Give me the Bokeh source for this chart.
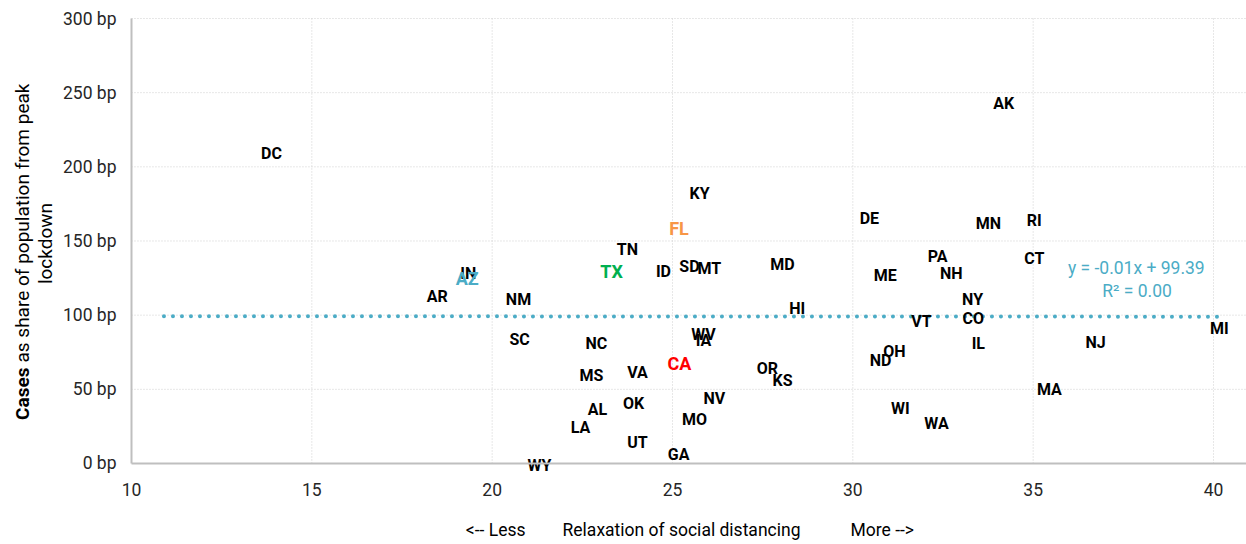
import math
from bokeh.plotting import figure
from bokeh.models import (ColumnDataSource, Range1d, FixedTicker, PrintfTickFormatter, Label)
from bokeh.core.properties import value
from bokeh.embed import file_html
from bokeh.resources import INLINE

# ---- data ----
states = ["DC", "AK", "KY", "FL", "DE", "MN", "RI", "PA", "CT", "ME", "NH", "NY", "VT", "CO",
          "IL", "NJ", "MI", "ND", "OH", "MA", "WI", "WA", "TN", "TX", "ID", "SD", "MT", "MD",
          "IN", "AZ", "AR", "NM", "HI", "SC", "NC", "WV", "IA", "CA", "MS", "VA", "OR", "KS",
          "NV", "AL", "OK", "MO", "LA", "UT", "GA", "WY"]
relaxation = [13.88, 34.18, 25.75, 25.18, 30.46, 33.76, 35.03, 32.35, 35.03, 30.90, 32.73, 33.32,
              31.90, 33.34, 33.48, 36.73, 40.16, 30.77, 31.15, 35.45, 31.32, 32.32, 23.75, 23.31,
              24.75, 25.47, 26.02, 28.05, 19.34, 19.31, 18.48, 20.73, 28.46, 20.76, 22.89, 25.86,
              25.86, 25.19, 22.75, 24.03, 27.63, 28.05, 26.16, 22.92, 23.92, 25.61, 22.45, 24.03,
              25.17, 21.31]
cases_bp = [209.0, 242.7, 181.8, 158.1, 165.2, 161.8, 163.8, 139.6, 138.2, 126.7, 128.1, 110.6,
            95.7, 97.8, 80.9, 81.6, 91.0, 69.4, 75.5, 49.9, 37.1, 27.0, 144.3, 129.4,
            129.4, 132.8, 131.5, 134.2, 128.1, 124.7, 112.6, 110.6, 104.5, 83.6, 80.9, 87.0,
            82.9, 67.4, 59.3, 61.4, 64.0, 56.0, 43.8, 36.4, 40.5, 29.7, 24.3, 14.2,
            6.1, -1.3]
highlight = {"FL": "#F79646", "TX": "#00B050", "AZ": "#4BACC6", "CA": "#FF0000"}

trend_slope = -0.01
trend_intercept = 99.39
trend_x = [10.9, 40.2]
trend_label = "y = -0.01x + 99.39"
r2_label = "R\u00b2 = 0.00"

x_ticks = [10, 15, 20, 25, 30, 35, 40]
y_ticks = [0, 50, 100, 150, 200, 250, 300]
x_min, x_max = 10, 40.915
y_min, y_max = 0, 300

FONT = "Roboto"
TREND_COLOR = "#4BACC6"
GRID_COLOR = "#CFCFCF"
AXIS_COLOR = "#BFBFBF"

W, H = 1246, 544
colors = [highlight.get(s, "#000000") for s in states]
sizes = ["18px" if s in highlight else "16px" for s in states]
src = ColumnDataSource(dict(x=relaxation, y=cases_bp, text=states, color=colors, size=sizes))

# the frame covers the whole canvas; axes are pinned at x=10 / y=0
p = figure(width=W, height=H, output_backend="svg", toolbar_location=None,
           x_range=Range1d(6.368, 40.915), y_range=Range1d(-54.607, 312.135),
           min_border=0)
p.outline_line_color = None
p.background_fill_color = "white"
p.xgrid.visible = False
p.ygrid.visible = False

# dotted grid lines, limited to the plot area
p.segment(x0=x_ticks[1:], y0=[y_min] * (len(x_ticks) - 1), x1=x_ticks[1:], y1=[y_max] * (len(x_ticks) - 1),
          line_color=GRID_COLOR, line_width=1, line_dash="1 2")
p.segment(x0=[x_min] * (len(y_ticks) - 1), y0=y_ticks[1:], x1=[x_max] * (len(y_ticks) - 1), y1=y_ticks[1:],
          line_color=GRID_COLOR, line_width=1, line_dash="1 2")

# axes
p.xaxis.ticker = FixedTicker(ticks=x_ticks)
p.yaxis.ticker = FixedTicker(ticks=y_ticks)
p.yaxis.formatter = PrintfTickFormatter(format="%d bp")
p.xaxis.fixed_location = y_min
p.yaxis.fixed_location = x_min
p.xaxis.bounds = (x_min, x_max)
p.yaxis.bounds = (y_min, y_max)
for ax in (p.xaxis[0], p.yaxis[0]):
    ax.axis_line_color = AXIS_COLOR
    ax.axis_line_width = 2
    ax.major_tick_line_color = None
    ax.minor_tick_line_color = None
    ax.major_tick_out = 0
    ax.major_tick_in = 0
    ax.major_label_text_font = FONT
    ax.major_label_text_font_size = "17.5px"
    ax.major_label_text_color = "#262626"
p.xaxis.major_label_standoff = 20
p.yaxis.major_label_standoff = 15

# trendline
trend_y = [trend_slope * x + trend_intercept for x in trend_x]
p.line(trend_x, trend_y, line_color=TREND_COLOR, line_width=4, line_dash="0 9", line_cap="round")

# state labels
p.text(x="x", y="y", text="text", source=src, text_color="color", text_font_size="size",
       text_font=value(FONT), text_font_style="bold", text_align="center", text_baseline="middle")

# trend equation
p.add_layout(Label(x=37.86, y=131.5, text=trend_label, text_font=FONT, text_font_size="17.5px",
                   text_color=TREND_COLOR, text_align="center", text_baseline="middle"))
p.add_layout(Label(x=37.88, y=116.6, text=r2_label, text_font=FONT, text_font_size="17.5px",
                   text_color=TREND_COLOR, text_align="center", text_baseline="middle"))

def scr(px, py):
    return dict(x=px, y=H - py, x_units="screen", y_units="screen")

# y-axis title (rotated, two lines)
p.add_layout(Label(**scr(22, 367), text="Cases", angle=math.pi / 2,
                   text_font=FONT, text_font_size="19px", text_font_style="bold", text_color="#000000",
                   text_align="right", text_baseline="middle"))
p.add_layout(Label(**scr(22, 362), text="as share of population from peak", angle=math.pi / 2,
                   text_font=FONT, text_font_size="19px", text_color="#000000",
                   text_align="left", text_baseline="middle"))
p.add_layout(Label(**scr(45, 243), text="lockdown", angle=math.pi / 2,
                   text_font=FONT, text_font_size="19px", text_color="#000000",
                   text_align="center", text_baseline="middle"))

# x-axis title pieces
p.add_layout(Label(**scr(525, 529), text="<-- Less",
                   text_font=FONT, text_font_size="17.5px", text_color="#000000",
                   text_align="right", text_baseline="middle"))
p.add_layout(Label(**scr(681, 529), text="Relaxation of social distancing",
                   text_font=FONT, text_font_size="17.5px", text_color="#000000",
                   text_align="center", text_baseline="middle"))
p.add_layout(Label(**scr(850, 529), text="More -->",
                   text_font=FONT, text_font_size="17.5px", text_color="#000000",
                   text_align="left", text_baseline="middle"))

open("out.html", "w").write(file_html(p, INLINE))
